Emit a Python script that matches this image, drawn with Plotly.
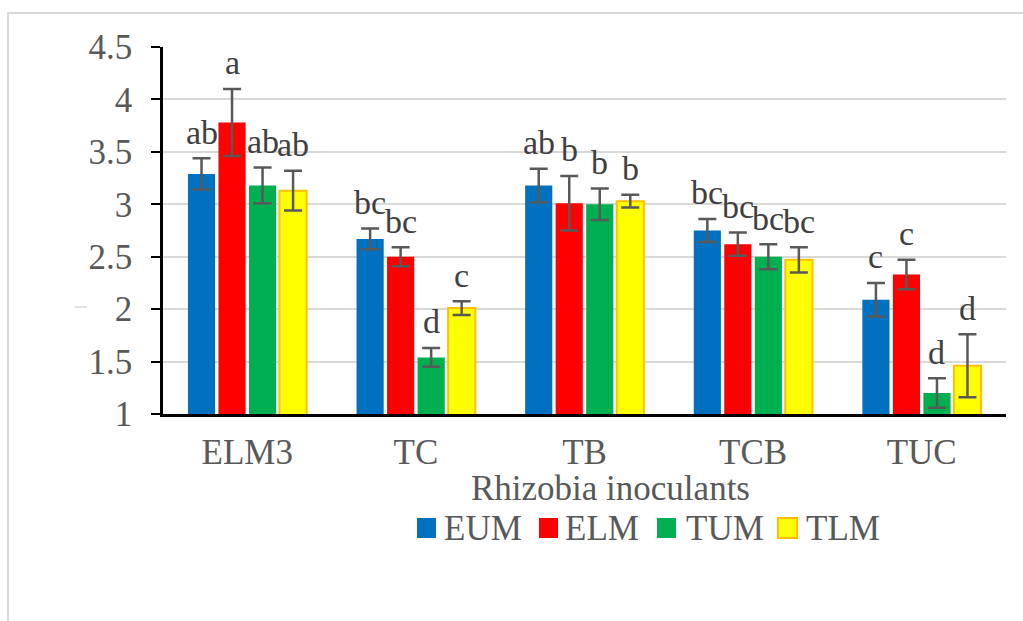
import plotly.graph_objects as go

# Rhizobia inoculant treatments and the four series measured for each
categories = ["ELM3", "TC", "TB", "TCB", "TUC"]
series_names = ["EUM", "ELM", "TUM", "TLM"]

eum = [3.29, 2.67, 3.18, 2.75, 2.09]
elm = [3.78, 2.50, 3.01, 2.62, 2.33]
tum = [3.18, 1.54, 3.00, 2.50, 1.20]
tlm = [3.13, 2.01, 3.03, 2.47, 1.46]

eum_err = [0.15, 0.10, 0.16, 0.11, 0.16]
elm_err = [0.32, 0.09, 0.26, 0.11, 0.14]
tum_err = [0.17, 0.09, 0.15, 0.12, 0.14]
tlm_err = [0.19, 0.065, 0.06, 0.12, 0.30]

# Mean-separation letters above each bar
eum_letters = ["ab", "bc", "ab", "bc", "c"]
elm_letters = ["a", "bc", "b", "bc", "c"]
tum_letters = ["ab", "d", "b", "bc", "d"]
tlm_letters = ["ab", "c", "b", "bc", "d"]

y_ticks = [1, 1.5, 2, 2.5, 3, 3.5, 4, 4.5]
x_title = "Rhizobia inoculants"

values = [eum, elm, tum, tlm]
errors = [eum_err, elm_err, tum_err, tlm_err]
letters = [eum_letters, elm_letters, tum_letters, tlm_letters]
fills = ["#0070C0", "#FF0000", "#00B050", "#FFFF00"]
edges = ["#0070C0", "#FF0000", "#00B050", "#FFC000"]
edge_widths = [0, 0, 0, 2]

FONT = "Liberation Serif"
GREY = "#595959"
FS = 35
BARGAP = 0.276

# Plot-area geometry in pixels, used to place the frame, title and legend
L, R, T, B = 163, 17, 47, 207
W, H = 1023, 621
PW, PH = W - L - R, H - T - B


def px_x(px):
    return (px - L) / PW


def px_y(py):
    return (H - B - py) / PH


fig = go.Figure()
for name, vals, errs, fill, edge, ew in zip(series_names, values, errors, fills, edges, edge_widths):
    fig.add_trace(go.Bar(
        name=name,
        x=categories,
        y=vals,
        marker=dict(color=fill, line=dict(color=edge, width=ew)),
        error_y=dict(type="data", array=errs, visible=True,
                     color=GREY, thickness=2.5, width=9),
        showlegend=False,
    ))

# Letters placed over each error bar, offset to the bar's slot in its group
slot = (1 - BARGAP) / len(series_names)
annotations = []
for j, (vals, errs, labs) in enumerate(zip(values, errors, letters)):
    offset = (j - (len(series_names) - 1) / 2) * slot
    for i, (v, e, lab) in enumerate(zip(vals, errs, labs)):
        annotations.append(dict(
            x=i + offset, y=v + e, xref="x", yref="y",
            text=lab, showarrow=False, yanchor="middle", yshift=26,
            font=dict(family=FONT, size=FS - 1, color="#404040"),
        ))

# Category-axis title
annotations.append(dict(
    x=px_x(610), y=px_y(488), xref="paper", yref="paper",
    xanchor="center", yanchor="middle", showarrow=False, text=x_title,
    font=dict(family=FONT, size=FS, color=GREY),
))

# Light outer frame around the chart area (extends past the right/bottom edge)
shapes = [
    dict(type="rect", xref="paper", yref="paper",
         x0=px_x(8), x1=px_x(1030), y0=px_y(630), y1=px_y(13),
         line=dict(color="#D9D9D9", width=2), layer="below"),
    dict(type="line", xref="paper", yref="paper",
         x0=px_x(75), x1=px_x(87), y0=px_y(307), y1=px_y(307),
         line=dict(color="#C8C8C8", width=1)),
]

# Legend: square swatches with series names, laid out in one row
swatch_left = [417, 539, 657, 778]
text_left = [442, 563, 684, 804]
for name, fill, edge, ew, sx, tx in zip(series_names, fills, edges, edge_widths, swatch_left, text_left):
    shapes.append(dict(
        type="rect", xref="paper", yref="paper",
        x0=px_x(sx), x1=px_x(sx + 19), y0=px_y(538), y1=px_y(518),
        fillcolor=fill, line=dict(color=edge, width=ew if ew else 0),
    ))
    annotations.append(dict(
        x=px_x(tx), y=px_y(528), xref="paper", yref="paper",
        xanchor="left", yanchor="middle", showarrow=False, text=name,
        font=dict(family=FONT, size=FS, color=GREY),
    ))

fig.update_layout(
    width=W, height=H,
    margin=dict(l=L, r=R, t=T, b=B),
    paper_bgcolor="white", plot_bgcolor="white",
    barmode="group", bargap=BARGAP, bargroupgap=0.11,
    font=dict(family=FONT, size=FS, color=GREY),
    showlegend=False,
    annotations=annotations,
    shapes=shapes,
    xaxis=dict(
        showline=True, linecolor="black", linewidth=3,
        showgrid=False, ticks="",
        tickfont=dict(family=FONT, size=FS, color=GREY),
        ticklabelstandoff=5,
    ),
    yaxis=dict(
        range=[1, 4.5], tickvals=y_ticks,
        showline=True, linecolor="black", linewidth=2.5,
        ticks="outside", ticklen=9, tickcolor="black", tickwidth=2,
        showgrid=True, gridcolor="#D9D9D9", gridwidth=2,
        zeroline=False,
        tickfont=dict(family=FONT, size=FS, color=GREY),
        ticklabelstandoff=12,
    ),
)

fig.write_html("out.html")
